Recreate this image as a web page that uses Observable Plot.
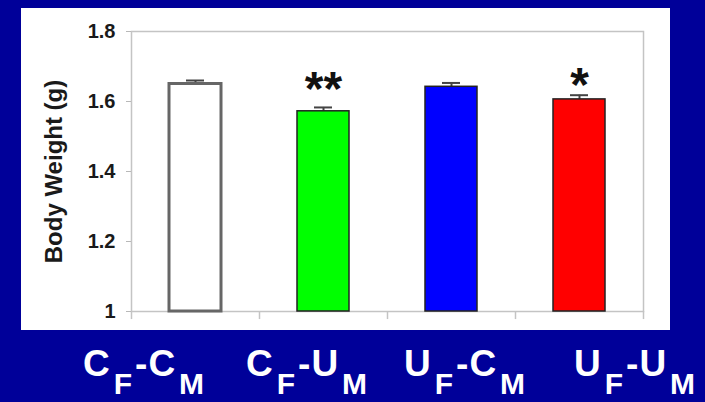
<!DOCTYPE html>
<html><head><meta charset="utf-8">
<script src="https://cdn.jsdelivr.net/npm/d3@7"></script>
<script src="https://cdn.jsdelivr.net/npm/@observablehq/plot@0.6"></script>
<style>
html,body{margin:0;padding:0;background:#000099;width:705px;height:402px;overflow:hidden;font-family:"Liberation Sans",Arial,sans-serif;}
#panel{position:absolute;left:21px;top:8px;width:649px;height:322px;background:#fff;}
#panel svg{display:block;}
.lab{position:absolute;top:345px;color:#fff;font-weight:bold;font-size:37px;line-height:37px;white-space:nowrap;letter-spacing:1px;}
.lab .sub{font-size:30px;vertical-align:-18px;line-height:0;margin:0 2px 0 3px;}
</style></head><body>
<div id="panel"></div>
<div id="labels"></div>
<script>
// ---- data ----
const groups = ["CF-CM", "CF-UM", "UF-CM", "UF-UM"];
const bodyWeight = [1.650, 1.572, 1.642, 1.606];
const sem = [0.010, 0.011, 0.011, 0.012];
const barColors = ["#ffffff", "#00ff00", "#0000ff", "#ff0000"];
const stars = ["", "**", "", "*"];
const starY = [null, 1.635, null, 1.645];
const femaleLetters = ["C", "C", "U", "U"];
const maleLetters = ["C", "U", "C", "U"];
const yTicks = [1, 1.2, 1.4, 1.6, 1.8];
const yLabel = "Body Weight (g)";

const data = groups.map((g, i) => ({g, v: bodyWeight[i], e: sem[i], color: barColors[i], s: stars[i], sy: starY[i]}));

const W = 649, H = 322, mL = 110, mR = 27, mT = 23, mB = 19;
const step = (W - mL - mR) / groups.length;

const chart = Plot.plot({
  width: W, height: H,
  marginLeft: mL, marginRight: mR, marginTop: mT, marginBottom: mB,
  style: {background: "transparent", fontFamily: "'Liberation Sans', Arial, sans-serif"},
  x: {domain: groups, padding: 0, axis: null},
  y: {domain: [1, 1.8], axis: null},
  color: {type: "identity"},
  marks: [
    Plot.frame({stroke: "#c4c4c4", strokeWidth: 1.5}),
    Plot.ruleX(groups, {x: d => d, y1: 1, y2: 0.977, dx: -step / 2, stroke: "#c4c4c4", strokeWidth: 1.5}),
    Plot.ruleX([groups[groups.length - 1]], {x: d => d, y1: 1, y2: 0.977, dx: step / 2, stroke: "#c4c4c4", strokeWidth: 1.5}),
    Plot.axisY({ticks: yTicks, tickFormat: d => d === 1 ? "1" : d.toFixed(1), tickSize: 5, tickPadding: 11,
      fontSize: 20, fontWeight: "bold", color: "#1a1a1a", stroke: "#b8b8b8", label: null}),
    Plot.text([yLabel], {frameAnchor: "left", textAnchor: "middle", rotate: -90, dx: -77, fontSize: 24, fontWeight: "bold", fill: "#1a1a1a"}),
    Plot.ruleX(data, {x: "g", y1: "v", y2: d => d.v + d.e, stroke: "#444", strokeWidth: 2}),
    Plot.tickY(data, {x: "g", y: d => d.v + d.e, stroke: "#444", strokeWidth: 2, insetLeft: 55, insetRight: 55}),
    Plot.barY(data, {x: "g", y1: 1, y2: "v", fill: "color",
      stroke: d => d.color === "#ffffff" ? "#666666" : "#222222",
      strokeWidth: d => d.color === "#ffffff" ? 3 : 1.5,
      insetLeft: 38, insetRight: 38}),
    Plot.text(data.filter(d => d.s), {x: "g", y: "sy", text: "s", fontSize: 48, fontWeight: "bold", fill: "#111"})
  ]
});
document.getElementById("panel").appendChild(chart);

const lefts = [83, 246, 404, 574];
const labels = document.getElementById("labels");
groups.forEach((g, i) => {
  const el = document.createElement("div");
  el.className = "lab";
  el.style.left = lefts[i] + "px";
  el.innerHTML = `${femaleLetters[i]}<span class="sub">F</span>-${maleLetters[i]}<span class="sub">M</span>`;
  labels.appendChild(el);
});
</script>
</body></html>
